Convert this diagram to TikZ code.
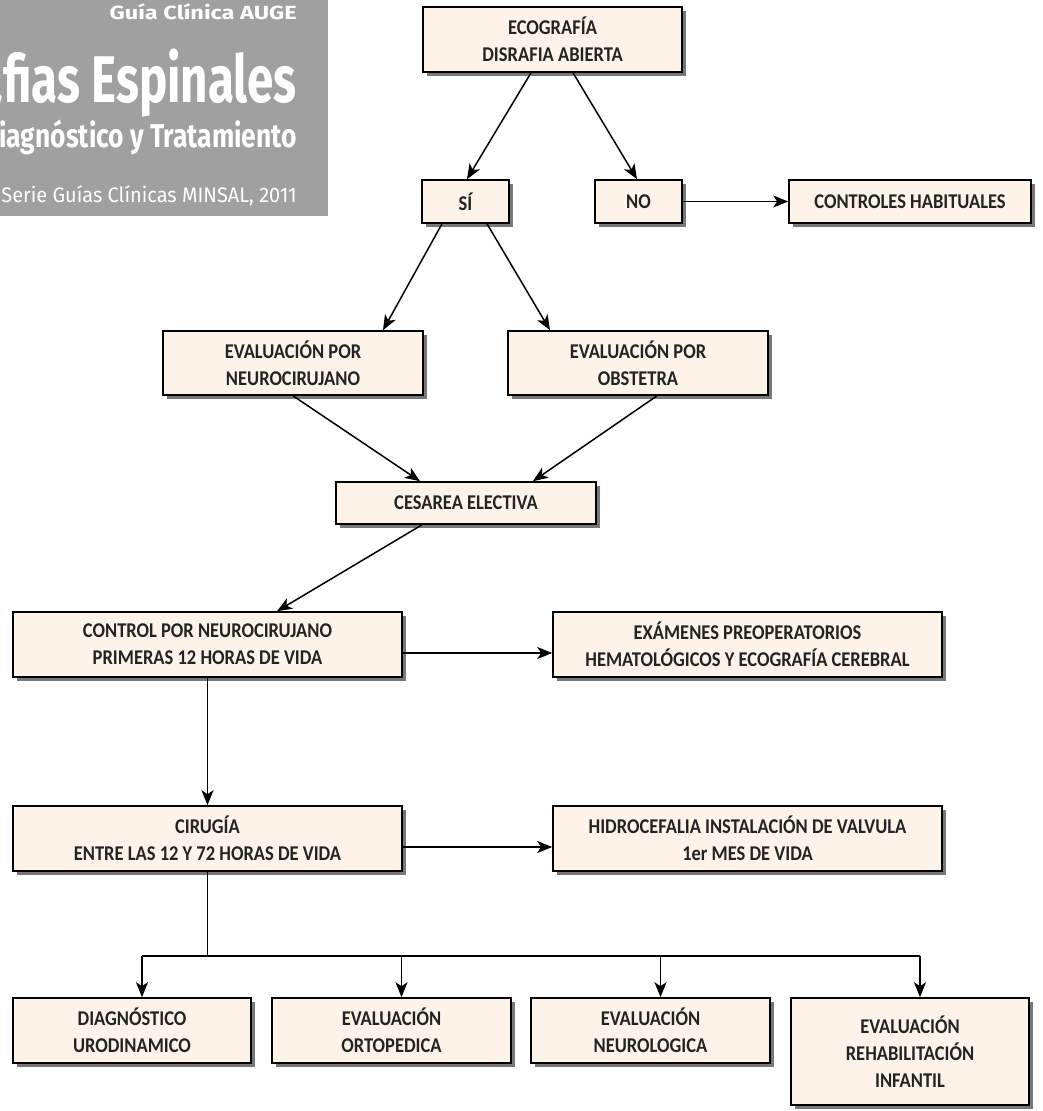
\documentclass[tikz,border=0pt]{standalone}
\usepackage{fontspec}
\setmainfont{Carlito}[FakeStretch=0.88]
\newfontfamily\hdrfont{Fira Sans}
\usetikzlibrary{arrows.meta,shadows}
\definecolor{boxfill}{RGB}{254,243,232}
\definecolor{shadowgray}{RGB}{120,120,120}
\definecolor{hdrgray}{RGB}{160,160,160}
\definecolor{txt}{RGB}{35,35,35}
\tikzset{
  box/.style={draw=black, line width=1.6pt, fill=boxfill,
    drop shadow={shadow xshift=4pt, shadow yshift=-4pt, fill=shadowgray, opacity=1},
    align=center, text=txt, inner sep=0pt,
    font=\fontsize{21}{27}\selectfont\bfseries},
  arr/.style={draw=black, line width=1.5pt, -{Stealth[length=15pt,width=12pt,inset=4pt]}},
  ln/.style={draw=black, line width=1.5pt},
  hdr/.style={text=white, inner sep=0pt, anchor=base east}
}
\begin{document}
\begin{tikzpicture}[x=1pt,y=-1pt]
\useasboundingbox (0,0) rectangle (1043,1111);
\fill[white] (0,0) rectangle (1043,1111);
% header
\fill[hdrgray] (0,0) rectangle (328,216);
\begin{scope}
\clip (0,0) rectangle (328,216);
\node[hdr, font=\hdrfont\bfseries\fontsize{19}{22}\selectfont] (h1) at (297,19) {\scalebox{1.24}[1]{Guía Clínica AUGE}};
\node[hdr, font=\hdrfont\bfseries\fontsize{66}{70}\selectfont] (h2) at (297,102) {\scalebox{0.72}[1]{Disrafias Espinales}};
\node[hdr, font=\hdrfont\bfseries\fontsize{33}{36}\selectfont] (h3) at (297,147) {\scalebox{0.8}[1]{Diagnóstico y Tratamiento}};
\node[hdr, font=\hdrfont\fontsize{21}{24}\selectfont] (h4) at (297,202) {\scalebox{0.95}[1]{Serie Guías Clínicas MINSAL, 2011}};
\end{scope}
% boxes
\node[box, minimum width=259pt, minimum height=65pt] (eco) at (552.5,39.5) {ECOGRAFÍA\\DISRAFIA ABIERTA};
\node[box, minimum width=87pt, minimum height=43pt] (si) at (465.5,201.5) {SÍ};
\node[box, minimum width=87pt, minimum height=43pt] (no) at (638.5,201.5) {NO};
\node[box, minimum width=242pt, minimum height=43pt] (ch) at (910,201.5) {CONTROLES HABITUALES};
\node[box, minimum width=260pt, minimum height=64pt] (en) at (293,363) {EVALUACIÓN POR\\NEUROCIRUJANO};
\node[box, minimum width=260pt, minimum height=64pt] (eo) at (638,363) {EVALUACIÓN POR\\OBSTETRA};
\node[box, minimum width=260pt, minimum height=42pt] (ce) at (466,503) {CESAREA ELECTIVA};
\node[box, minimum width=389pt, minimum height=65pt] (cn) at (207.5,644.5) {CONTROL POR NEUROCIRUJANO\\PRIMERAS 12 HORAS DE VIDA};
\node[box, minimum width=389pt, minimum height=65pt] (ex) at (747.5,644.5) {EXÁMENES PREOPERATORIOS\\HEMATOLÓGICOS Y ECOGRAFÍA CEREBRAL};
\node[box, minimum width=389pt, minimum height=65pt] (ci) at (207.5,838.5) {CIRUGÍA\\ENTRE LAS 12 Y 72 HORAS DE VIDA};
\node[box, minimum width=389pt, minimum height=65pt] (hi) at (747.5,838.5) {HIDROCEFALIA INSTALACIÓN DE VALVULA\\1er MES DE VIDA};
\node[box, minimum width=238pt, minimum height=65pt] (d1) at (132,1030.5) {DIAGNÓSTICO\\URODINAMICO};
\node[box, minimum width=239pt, minimum height=65pt] (d2) at (391.5,1030.5) {EVALUACIÓN\\ORTOPEDICA};
\node[box, minimum width=239pt, minimum height=65pt] (d3) at (650.5,1030.5) {EVALUACIÓN\\NEUROLOGICA};
\node[box, minimum width=238pt, minimum height=107pt] (d4) at (910,1051.5) {EVALUACIÓN\\REHABILITACIÓN\\INFANTIL};
% connectors
\draw[arr] ([xshift=-21.5pt]eco.south) -- ([xshift=1.5pt]si.north);
\draw[arr] ([xshift=20.5pt]eco.south) -- ([xshift=-1.5pt]no.north);
\draw[arr] (no.east) -- (ch.west);
\draw[arr] ([xshift=-23.5pt]si.south) -- ([xshift=90pt]en.north);
\draw[arr] ([xshift=21.5pt]si.south) -- ([xshift=-88pt]eo.north);
\draw[arr] (en.south) -- ([xshift=-46pt]ce.north);
\draw[arr] ([xshift=19pt]eo.south) -- ([xshift=67pt]ce.north);
\draw[arr] ([xshift=-44pt]ce.south) -- ([xshift=69.5pt]cn.north);
\draw[arr] ([yshift=-8.5pt]cn.east) -- ([yshift=-8.5pt]ex.west);
\draw[arr] (cn.south) -- (ci.north);
\draw[arr] ([yshift=-8.5pt]ci.east) -- ([yshift=-8.5pt]hi.west);
\coordinate (j) at (207.5,956);
\coordinate (b1) at (142,956);
\coordinate (b2) at (401.5,956);
\coordinate (b3) at (660.5,956);
\coordinate (b4) at (920,956);
\draw[ln] (ci.south) -- (j);
\draw[ln] (b1) -- (b4);
\draw[arr] (b1) -- (b1 |- d1.north);
\draw[arr] (b2) -- (b2 |- d2.north);
\draw[arr] (b3) -- (b3 |- d3.north);
\draw[arr] (b4) -- (b4 |- d4.north);
\end{tikzpicture}
\end{document}
